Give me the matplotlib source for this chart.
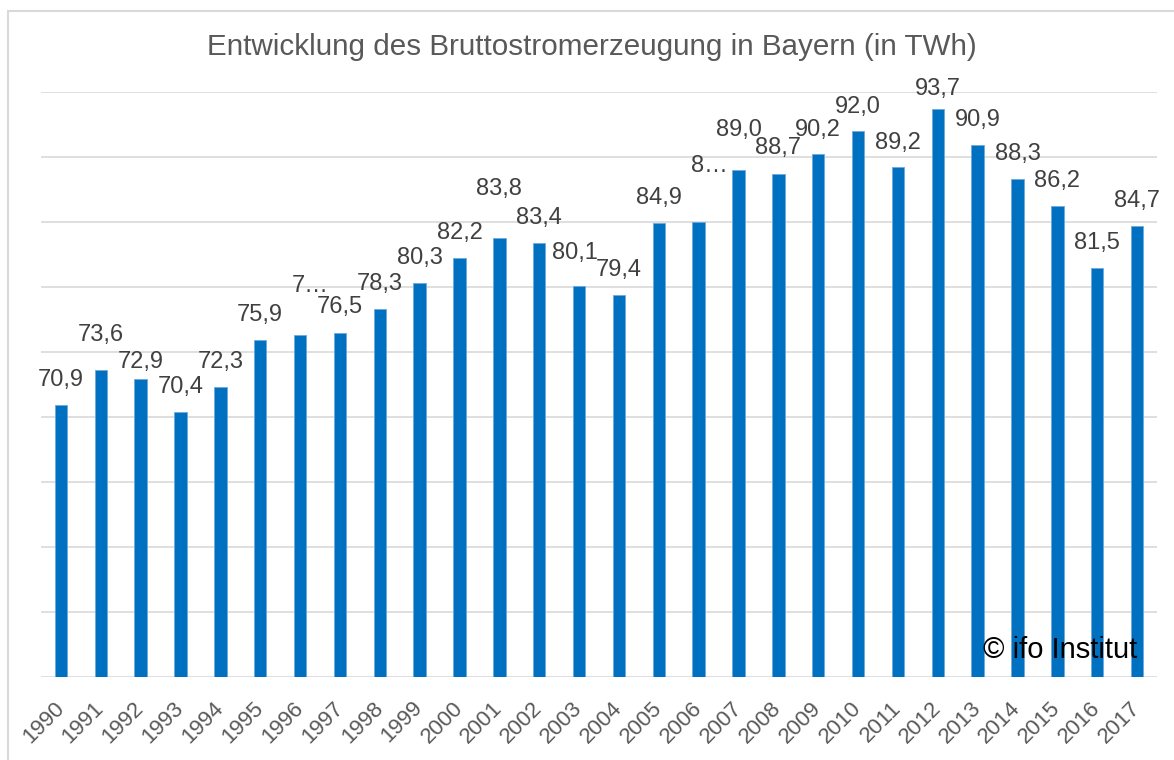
import matplotlib
matplotlib.use("Agg")
import matplotlib.pyplot as plt
from matplotlib.patches import Rectangle

plt.rcParams["font.family"] = ["Liberation Sans", "DejaVu Sans"]

years = [str(y) for y in range(1990, 2018)]
twh = [70.9, 73.6, 72.9, 70.4, 72.3, 75.9, 76.3, 76.5, 78.3, 80.3,
       82.2, 83.8, 83.4, 80.1, 79.4, 84.9, 85.0, 89.0, 88.7, 90.2,
       92.0, 89.2, 93.7, 90.9, 88.3, 86.2, 81.5, 84.7]
# data labels as printed in the source chart (two are cut off there)
label_text = ["70,9", "73,6", "72,9", "70,4", "72,3", "75,9", "7\u2026", "76,5",
              "78,3", "80,3", "82,2", "83,8", "83,4", "80,1", "79,4", "84,9",
              "8\u2026", "89,0", "88,7", "90,2", "92,0", "89,2", "93,7", "90,9",
              "88,3", "86,2", "81,5", "84,7"]
title = "Entwicklung des Bruttostromerzeugung in Bayern (in TWh)"
source = "\u00a9 ifo Institut"

# label placement (pixels above bar top / sideways), mimicking Excel's layout
lift = [25, 35, 17, 25, 25, 25, 49, 25, 25, 25, 25, 49, 25, 33, 25, 25,
        56, 40, 26, 24, 24, 24, 20, 25, 25, 25, 25, 25]
shift = [0] * len(years)
shift[6] = 10
shift[16] = 11
shift[13] = -4

fig = plt.figure(figsize=(11.74, 7.6), dpi=100)
ax = fig.add_axes([41 / 1174, 1 - 677 / 760, (1157 - 41) / 1174, (677 - 92) / 760])

x = range(len(years))
ax.bar(x, twh, width=0.31, color="#0070C0", edgecolor="#6FA8DC", linewidth=0.6,
       zorder=3)
ax.set_xlim(-0.5, len(years) - 0.5)
ax.set_ylim(50, 95)
ax.set_yticks(range(50, 96, 5))
ax.yaxis.grid(True, color="#D9D9D9", linewidth=1.2, zorder=0)
ax.tick_params(axis="y", left=False, labelleft=False)
for s in ax.spines.values():
    s.set_visible(False)

ax.set_xticks(list(x))
ax.set_xticklabels(years, rotation=45, ha="right", va="center",
                   rotation_mode="anchor", fontsize=16, color="#595959")
ax.tick_params(axis="x", length=0, pad=20)

for i, (v, t) in enumerate(zip(twh, label_text)):
    ax.annotate(t, (i, v), xytext=(shift[i], lift[i]), textcoords="offset pixels",
                ha="center", va="center", fontsize=17, color="#404040", zorder=4)

fig.text(0.504, 1 - 47 / 760, title, ha="center", va="center",
         fontsize=21.3, color="#595959")
fig.text(1137 / 1174, 1 - 658 / 760, source, ha="right", va="baseline",
         fontsize=21, color="black", zorder=5)

fig.patches.append(Rectangle((7.5 / 1174, -0.02), 1.05, 1 - 10.5 / 760 + 0.02,
                             transform=fig.transFigure, fill=False,
                             edgecolor="#D9D9D9", linewidth=1.5))

fig.savefig("out.png", dpi=100)
